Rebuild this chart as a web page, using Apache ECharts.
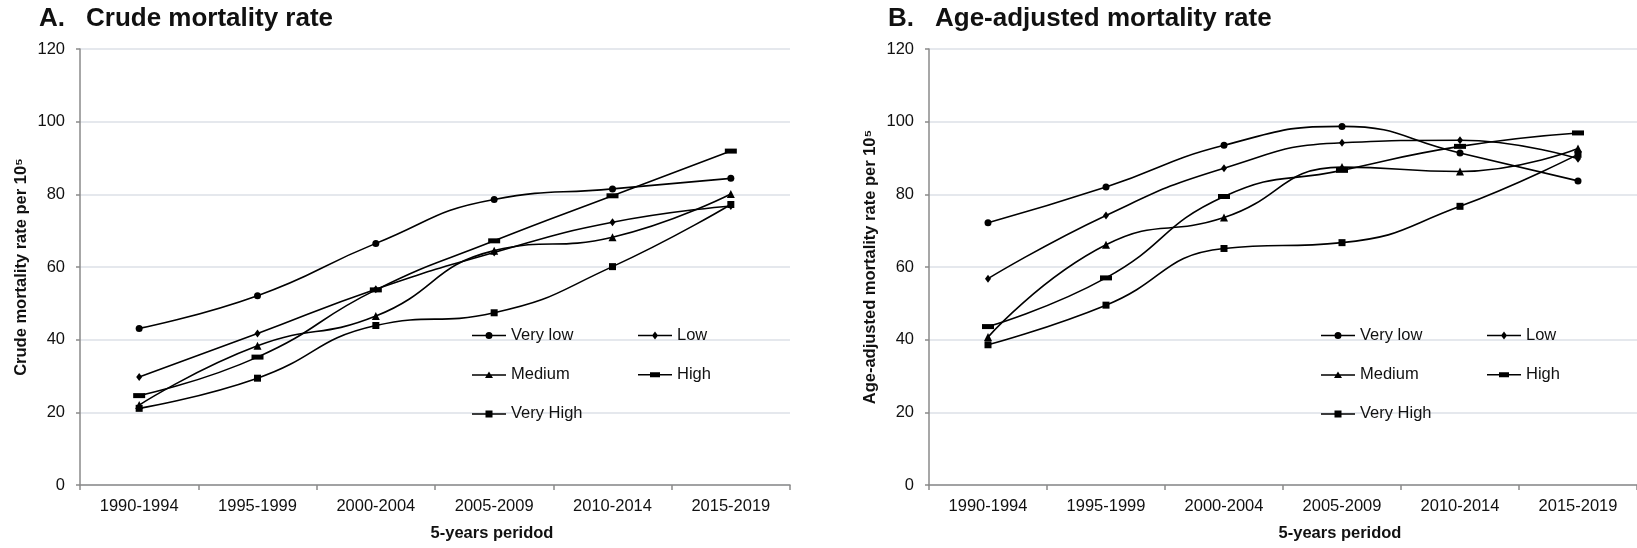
<!DOCTYPE html>
<html>
<head>
<meta charset="utf-8">
<script src="https://cdn.jsdelivr.net/npm/echarts@6/dist/echarts.min.js"></script>
<style>
html,body{margin:0;padding:0;background:#fff;}
#chart{width:1637px;height:548px;}
</style>
</head>
<body>
<div id="chart"></div>
<script>
// ---- data ----
const categories = ['1990-1994', '1995-1999', '2000-2004', '2005-2009', '2010-2014', '2015-2019'];
const seriesNames = ['Very low', 'Low', 'Medium', 'High', 'Very High'];
// Panel A: crude mortality rate per 10^5
const crudeVeryLow  = [43.1, 52.1, 66.5, 78.6, 81.5, 84.4];
const crudeLow      = [29.7, 41.7, 53.9, 64.0, 72.3, 76.8];
const crudeMedium   = [22.0, 38.3, 46.5, 64.5, 68.2, 80.1];
const crudeHigh     = [24.6, 35.2, 53.7, 67.2, 79.6, 91.9];
const crudeVeryHigh = [21.1, 29.4, 43.9, 47.4, 60.1, 77.2];
// Panel B: age-adjusted mortality rate per 10^5
const adjVeryLow  = [72.2, 82.0, 93.5, 98.7, 91.4, 83.7];
const adjLow      = [56.8, 74.2, 87.2, 94.2, 94.9, 89.8];
const adjMedium   = [40.7, 66.1, 73.6, 87.5, 86.3, 92.6];
const adjHigh     = [43.6, 57.0, 79.4, 86.6, 93.2, 96.9];
const adjVeryHigh = [38.6, 49.5, 65.1, 66.7, 76.7, 91.0];
const yMin = 0, yMax = 120, yStep = 20;

// ---- styles ----
const FONT = '"Liberation Sans", Arial, sans-serif';
const TXT = '#111';
const symbols = {
  'Very low': {symbol: 'circle', size: 7},
  'Low': {symbol: 'diamond', size: [6, 8]},
  'Medium': {symbol: 'triangle', size: 8},
  'High': {symbol: 'rect', size: [12, 5]},
  'Very High': {symbol: 'rect', size: 7}
};
const lineBar = 'M0,4.25 H34 V5.75 H0 Z ';
const legendIcons = {
  'Very low': 'path://' + lineBar + 'M13.5,5 A3.5,3.5 0 1 1 20.5,5 A3.5,3.5 0 1 1 13.5,5 Z',
  'Low': 'path://' + lineBar + 'M17,1 L20,5 L17,9 L14,5 Z',
  'Medium': 'path://' + lineBar + 'M17,1.5 L21,8 L13,8 Z',
  'High': 'path://' + lineBar + 'M12,2.5 H22 V7.5 H12 Z',
  'Very High': 'path://' + lineBar + 'M13.5,1.5 H20.5 V8.5 H13.5 Z'
};

const panels = [
  {left: 80, title1: 'A.', title2: 'Crude mortality rate', yName: 'Crude mortality rate per 10\u2075',
   data: [crudeVeryLow, crudeLow, crudeMedium, crudeHigh, crudeVeryHigh]},
  {left: 929, title1: 'B.', title2: 'Age-adjusted mortality rate', yName: 'Age-adjusted mortality rate per 10\u2075',
   data: [adjVeryLow, adjLow, adjMedium, adjHigh, adjVeryHigh]}
];

const grids = [], xAxes = [], yAxes = [], series = [], titles = [], legends = [];
panels.forEach((p, i) => {
  grids.push({left: p.left, top: 49, width: 710, height: 436});
  titles.push({text: p.title1, left: p.left - 41, top: 6, padding: 0,
    textStyle: {fontFamily: FONT, fontSize: 26, fontWeight: 'bold', color: TXT}});
  titles.push({text: p.title2, left: p.left + 6, top: 6, padding: 0,
    textStyle: {fontFamily: FONT, fontSize: 26, fontWeight: 'bold', color: TXT}});
  xAxes.push({
    type: 'category', gridIndex: i, data: categories, boundaryGap: true,
    name: '5-years peridod', nameLocation: 'middle', nameGap: 40,
    nameTextStyle: {fontFamily: FONT, fontSize: 16.5, fontWeight: 'bold', color: TXT, padding: [0, 0, 0, 114]},
    axisLine: {lineStyle: {color: '#8a8a8a', width: 1.5}},
    axisTick: {show: true, length: 5, lineStyle: {color: '#8a8a8a', width: 1.5}},
    axisLabel: {fontFamily: FONT, fontSize: 16.5, color: TXT, margin: 13, interval: 0},
    splitLine: {show: false}
  });
  yAxes.push({
    type: 'value', gridIndex: i, min: yMin, max: yMax, interval: yStep,
    name: p.yName, nameLocation: 'middle', nameGap: 50,
    nameTextStyle: {fontFamily: FONT, fontSize: 16.5, fontWeight: 'bold', color: TXT},
    axisLine: {show: true, lineStyle: {color: '#8a8a8a', width: 1.5}},
    axisTick: {show: true, length: 4, lineStyle: {color: '#8a8a8a', width: 1.5}},
    axisLabel: {fontFamily: FONT, fontSize: 16.5, color: TXT, margin: 15},
    splitLine: {show: true, lineStyle: {color: '#dde1e7', width: 1.5}}
  });
  seriesNames.forEach((name, k) => {
    series.push({
      type: 'line', name: name, xAxisIndex: i, yAxisIndex: i,
      data: p.data[k], smooth: 0.5,
      symbol: symbols[name].symbol, symbolSize: symbols[name].size, showSymbol: true,
      lineStyle: {color: '#000', width: 1.6},
      itemStyle: {color: '#000', borderWidth: 0},
      emphasis: {disabled: true}, z: 3
    });
  });
  const legendBase = {
    orient: 'vertical', padding: 0, itemWidth: 34, itemHeight: 10, itemGap: 21.2,
    top: 326.5, selectedMode: false, symbolKeepAspect: true,
    itemStyle: {borderWidth: 0},
    textStyle: {fontFamily: FONT, fontSize: 16.5, color: TXT, lineHeight: 18}
  };
  legends.push(Object.assign({}, legendBase, {left: p.left + 392,
    data: ['Very low', 'Medium', 'Very High'].map(n => ({name: n, icon: legendIcons[n]}))}));
  legends.push(Object.assign({}, legendBase, {left: p.left + 558,
    data: ['Low', 'High'].map(n => ({name: n, icon: legendIcons[n]}))}));
});

const chart = echarts.init(document.getElementById('chart'), null, {renderer: 'canvas'});
chart.setOption({
  animation: false,
  backgroundColor: '#fff',
  title: titles, grid: grids, xAxis: xAxes, yAxis: yAxes, legend: legends, series: series
});
</script>
</body>
</html>
